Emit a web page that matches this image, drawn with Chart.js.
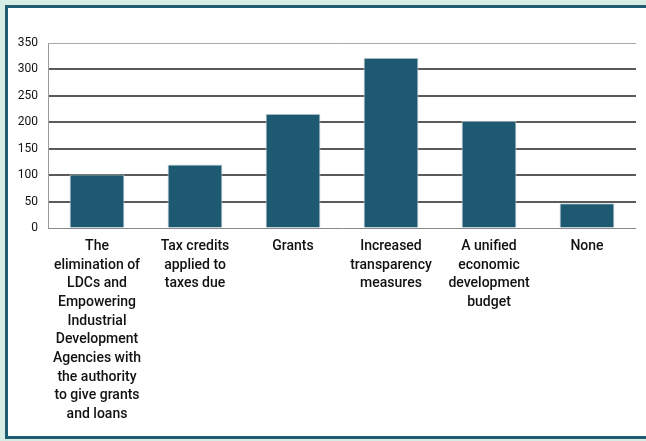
<!DOCTYPE html>
<html>
<head>
<meta charset="utf-8">
<script src="https://cdn.jsdelivr.net/npm/chart.js@4"></script>
<style>
  html, body { margin: 0; padding: 0; width: 646px; height: 441px; overflow: hidden; background: #d8ece6; }
  #frame {
    position: absolute; left: 5px; top: 5px; width: 660px; height: 428px;
    background: #fff; border: 3px solid #1f5d71; border-right: none;
  }
  #wrap { position: absolute; left: 0; top: 0; width: 646px; height: 441px; }
</style>
</head>
<body>
<div id="frame"></div>
<div id="wrap"><canvas id="chart" width="646" height="441"></canvas></div>
<script>
// categories (wrapped as in the original)
var categories = [
  ["The", "elimination of", "LDCs and", "Empowering", "Industrial", "Development", "Agencies with", "the authority", "to give grants", "and loans"],
  ["Tax credits", "applied to", "taxes due"],
  ["Grants"],
  ["Increased", "transparency", "measures"],
  ["A unified", "economic", "development", "budget"],
  ["None"]
];
var responses = [101, 120, 216, 322, 203, 47];
var yTicks = [0, 50, 100, 150, 200, 250, 300, 350];

var labelFont = "Roboto, 'DejaVu Sans Condensed', sans-serif";

var ctx = document.getElementById("chart").getContext("2d");
var chart = new Chart(ctx, {
  type: "bar",
  data: {
    labels: categories,
    datasets: [
      {
        label: "Responses",
        data: responses,
        backgroundColor: "#1d5a72",
        borderColor: "#c6d1d6",
        borderWidth: 1,
        barPercentage: 0.8,
        categoryPercentage: 0.7
      }
    ]
  },
  options: {
    responsive: false,
    animation: false,
    layout: { padding: { top: 43, right: 10, left: 0, bottom: 0 } },
    plugins: {
      legend: { display: false },
      tooltip: { enabled: false }
    },
    scales: {
      x: {
        grid: { display: false, drawTicks: false },
        border: { display: false },
        ticks: {
          color: "#111",
          padding: 9,
          maxRotation: 0,
          autoSkip: false,
          font: { family: labelFont, size: 14, weight: "500", lineHeight: 1.336 }
        },
        afterFit: function(scale) { scale.height = 213; }
      },
      y: {
        min: 0,
        max: 350,
        afterBuildTicks: function(scale) {
          scale.ticks = yTicks.map(function(v) { return { value: v }; });
        },
        grid: {
          drawTicks: false,
          color: function(c) {
            if (c.tick.value === 350) return "#a8a8a8";
            if (c.tick.value === 0) return "#8a8a8a";
            return "#5a5a5a";
          },
          lineWidth: function(c) {
            return (c.tick.value === 350 || c.tick.value === 0) ? 1 : 2;
          }
        },
        border: { display: true, color: "#9a9a9a", width: 1 },
        ticks: {
          color: "#111",
          padding: 10,
          font: { family: labelFont, size: 12 }
        },
        afterFit: function(scale) { scale.width = 48; }
      }
    }
  }
});
</script>
</body>
</html>
